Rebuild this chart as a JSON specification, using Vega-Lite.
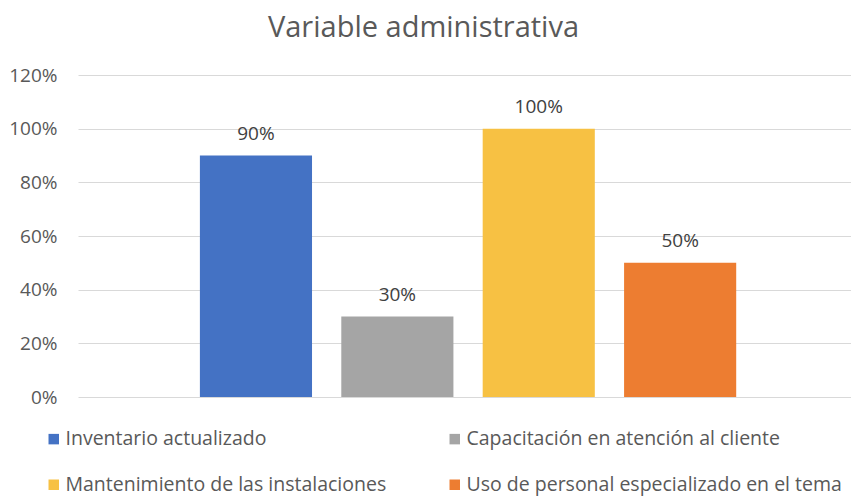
{
  "$schema": "https://vega.github.io/schema/vega-lite/v6.json",
  "width": 773,
  "height": 322,
  "autosize": {"type": "none"},
  "padding": {"left": 78, "top": 75, "right": 0, "bottom": 101},
  "background": "white",
  "title": {
    "text": "Variable administrativa",
    "font": "Open Sans",
    "fontSize": 29,
    "fontWeight": "normal",
    "color": "#595959",
    "anchor": "middle",
    "frame": "group",
    "dx": -41,
    "offset": 0,
    "baseline": "alphabetic"
  },
  "data": {
    "values": [
      {"serie": "Inventario actualizado", "valor": 0.9},
      {"serie": "Capacitación en atención al cliente", "valor": 0.3},
      {"serie": "Mantenimiento de las instalaciones", "valor": 1.0},
      {"serie": "Uso de personal especializado en el tema", "valor": 0.5}
    ]
  },
  "encoding": {
    "x": {
      "field": "serie",
      "type": "nominal",
      "sort": null,
      "scale": {"paddingInner": 0.207, "paddingOuter": 0.837, "align": 0.515},
      "axis": null
    },
    "y": {
      "field": "valor",
      "type": "quantitative",
      "scale": {"domain": [0, 1.2], "nice": false},
      "axis": {
        "title": null,
        "format": ".0%",
        "values": [0, 0.2, 0.4, 0.6, 0.8, 1.0, 1.2],
        "grid": true,
        "gridColor": "#D9D9D9",
        "gridWidth": 1,
        "domain": false,
        "ticks": false,
        "labelPadding": 21,
        "labelFont": "Open Sans",
        "labelFontSize": 19,
        "labelColor": "#595959"
      }
    }
  },
  "layer": [
    {
      "mark": {"type": "bar"},
      "encoding": {
        "color": {
          "field": "serie",
          "type": "nominal",
          "scale": {
            "domain": [
              "Inventario actualizado",
              "Mantenimiento de las instalaciones",
              "Capacitación en atención al cliente",
              "Uso de personal especializado en el tema"
            ],
            "range": ["#4472C4", "#F7C143", "#A5A5A5", "#ED7D31"]
          },
          "legend": {
            "title": null,
            "orient": "none",
            "legendX": -34,
            "legendY": 354,
            "columns": 2,
            "columnPadding": 58,
            "rowPadding": 25,
            "symbolType": "square",
            "symbolSize": 110,
            "symbolStrokeWidth": 0,
            "labelFont": "Open Sans",
            "labelFontSize": 19.5,
            "labelColor": "#595959",
            "labelOffset": 2,
            "labelLimit": 500
          }
        }
      }
    },
    {
      "mark": {
        "type": "text",
        "baseline": "alphabetic",
        "dy": -16,
        "font": "Open Sans",
        "fontSize": 19,
        "color": "#404040"
      },
      "encoding": {
        "text": {"field": "valor", "type": "quantitative", "format": ".0%"}
      }
    }
  ],
  "config": {
    "view": {"stroke": null}
  }
}
